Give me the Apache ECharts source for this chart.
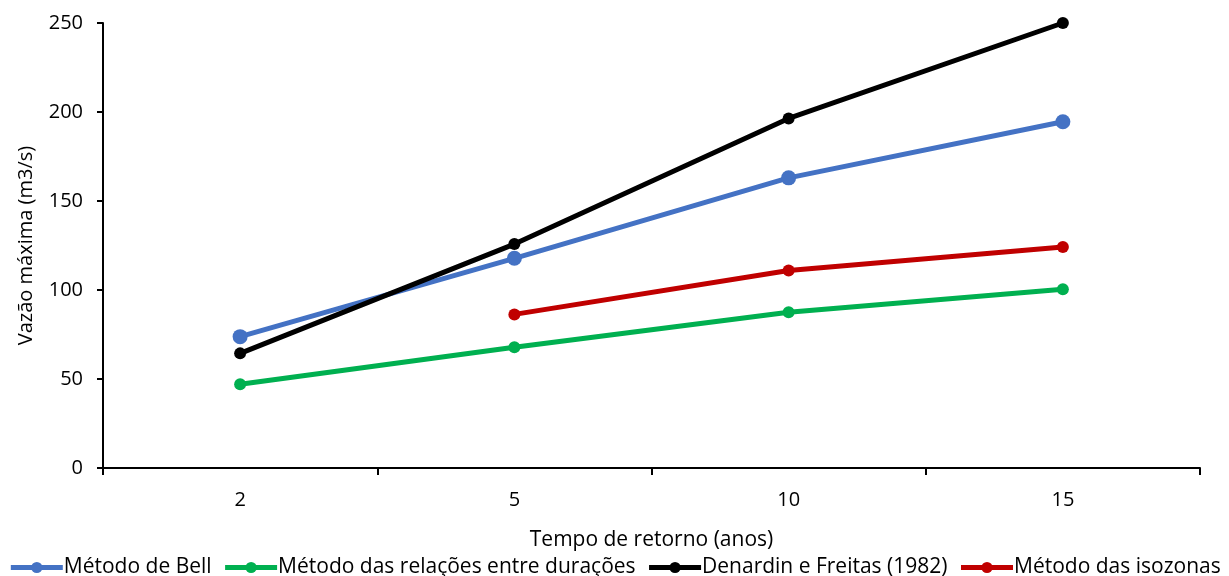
<!DOCTYPE html>
<html>
<head>
<meta charset="utf-8">
<script src="https://cdn.jsdelivr.net/npm/echarts@6/dist/echarts.min.js"></script>
<style>
  html, body { margin: 0; padding: 0; background: #fff; }
  #chart { width: 1229px; height: 576px; }
</style>
</head>
<body>
<div id="chart"></div>
<script>
// anos de retorno
const categories = ['2', '5', '10', '15']
// vazão máxima (m3/s) por método
const bell = [73.8, 117.8, 163, 194.5]
const relacoes = [47, 67.8, 87.5, 100.4]
const denardin = [64.4, 125.8, 196.4, 250]
const isozonas = [null, 86.3, 111, 124.2]
const yTicks = { min: 0, max: 250, interval: 50 }

const font = 'Open Sans'

function serie (name, data, color, size) {
  return {
    name: name,
    type: 'line',
    data: data,
    symbol: 'circle',
    symbolSize: size,
    lineStyle: { color: color, width: 5 },
    itemStyle: { color: color },
    connectNulls: false
  }
}

const myChart = echarts.init(document.getElementById('chart'))
const option = {
  animation: false,
  textStyle: { fontFamily: font },
  grid: { left: 103, right: 29, top: 23, bottom: 108 },
  legend: {
    bottom: -7,
    left: 'center',
    itemWidth: 52,
    itemHeight: 14,
    itemGap: 11,
    lineStyle: { width: 5 },
    textStyle: { fontFamily: font, fontSize: 21, color: '#000', padding: [0, 0, 0, -4] },
    data: ['Método de Bell', 'Método das relações entre durações', 'Denardin e Freitas (1982)', 'Método das isozonas']
  },
  xAxis: {
    type: 'category',
    data: categories,
    boundaryGap: true,
    name: 'Tempo de retorno (anos)',
    nameLocation: 'middle',
    nameGap: 62,
    nameTextStyle: { fontFamily: font, fontSize: 21, color: '#000' },
    axisLine: { lineStyle: { color: '#000', width: 2 } },
    axisTick: { show: true, length: 7, lineStyle: { color: '#000', width: 2 } },
    axisLabel: { fontFamily: font, fontSize: 20, color: '#000', margin: 22 },
    splitLine: { show: false }
  },
  yAxis: {
    type: 'value',
    min: yTicks.min,
    max: yTicks.max,
    interval: yTicks.interval,
    name: 'Vazão máxima (m3/s)',
    nameLocation: 'middle',
    nameGap: 67,
    nameTextStyle: { fontFamily: font, fontSize: 20, color: '#000' },
    axisLine: { show: true, lineStyle: { color: '#000', width: 2 } },
    axisTick: { show: true, length: 6, lineStyle: { color: '#000', width: 2 } },
    axisLabel: { fontFamily: font, fontSize: 20, color: '#000', margin: 20 },
    splitLine: { show: false }
  },
  series: [
    serie('Método de Bell', bell, '#4472c4', 15),
    serie('Método das relações entre durações', relacoes, '#00b050', 12),
    serie('Denardin e Freitas (1982)', denardin, '#000000', 12),
    serie('Método das isozonas', isozonas, '#c00000', 12)
  ]
}
myChart.setOption(option)
</script>
</body>
</html>
